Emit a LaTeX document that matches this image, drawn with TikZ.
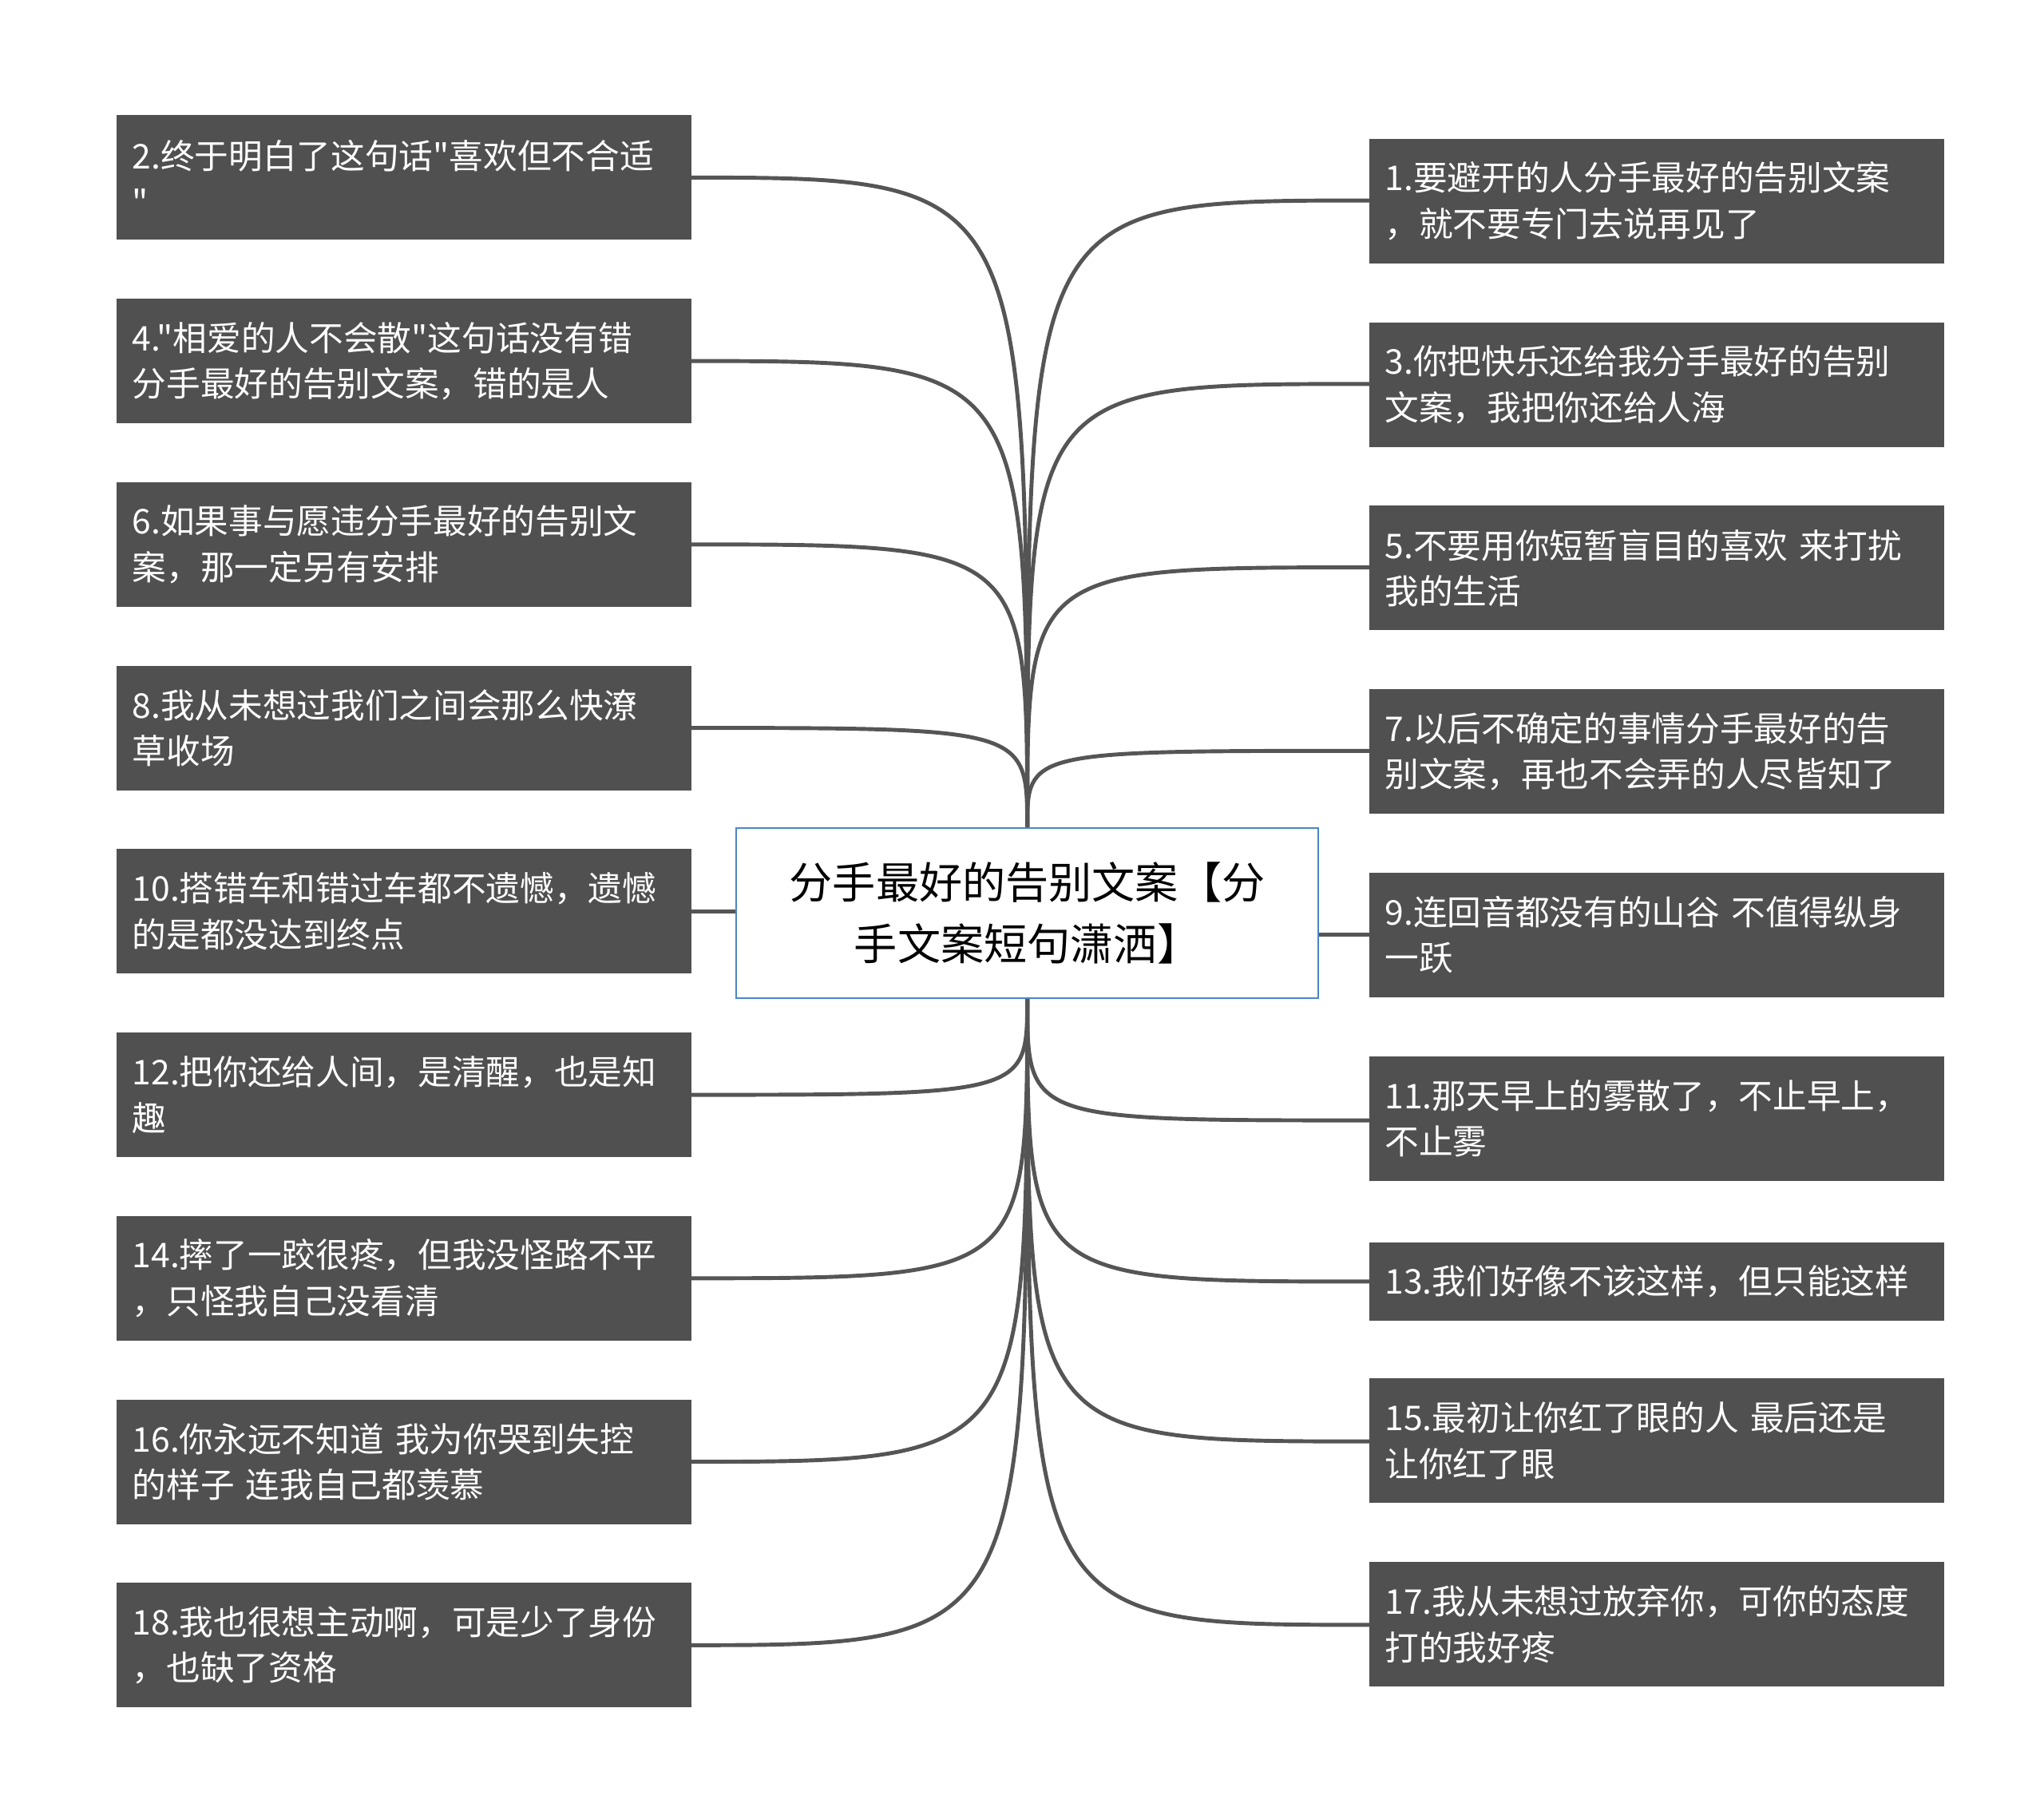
\documentclass[tikz,border=0pt]{standalone}
\usepackage{fontspec}
\newfontfamily\cjk{Noto Sans CJK SC}
\begin{document}
\begin{tikzpicture}[x=1pt,y=-1pt,
  leaf/.style={fill=boxgray,text=white,anchor=north west,minimum width=433pt,minimum height=95pt,text width=415pt,inner xsep=12pt,outer sep=0pt,align=left,font=\cjk\fontsize{26}{35}\selectfont},
  link/.style={draw=linegray,line width=3pt}]
\definecolor{boxgray}{HTML}{505050}
\definecolor{linegray}{HTML}{555555}
\definecolor{blueb}{HTML}{4A86C8}
\useasboundingbox (0,0) rectangle (1560,1388);
\coordinate (ct) at (784,632);
\coordinate (cb) at (784,762);
\foreach \i in {1,2,3,4} {
  \draw[link] (ct) .. controls (784,{135.5+140*(\i-1)}) .. (522,{135.5+140*(\i-1)});
  \draw[link] (ct) .. controls (784,{153+140*(\i-1)}) .. (1045,{153+140*(\i-1)});
}
\foreach \i in {6,7,8,9} {
  \draw[link] (cb) .. controls (784,{135.5+140*(\i-1)}) .. (522,{135.5+140*(\i-1)});
}
\foreach \y in {855,978,1100,1240} {
  \draw[link] (cb) .. controls (784,\y) .. (1045,\y);
}
\node[draw=blueb,line width=1.2pt,fill=white,minimum width=444pt,minimum height=130pt,align=center,font=\cjk\fontsize{33}{47}\selectfont] (c) at (784,697) {分手最好的告别文案【分\\手文案短句潇洒】};
\node[leaf] (l1) at (89,88) {2.终于明白了这句话"喜欢但不合适\\"};
\node[leaf] (l2) at (89,228) {4."相爱的人不会散"这句话没有错\\分手最好的告别文案，错的是人};
\node[leaf] (l3) at (89,368) {6.如果事与愿违分手最好的告别文\\案，那一定另有安排};
\node[leaf] (l4) at (89,508) {8.我从未想过我们之间会那么快潦\\草收场};
\node[leaf] (l5) at (89,648) {10.搭错车和错过车都不遗憾，遗憾\\的是都没达到终点};
\node[leaf] (l6) at (89,788) {12.把你还给人间，是清醒，也是知\\趣};
\node[leaf] (l7) at (89,928) {14.摔了一跤很疼，但我没怪路不平\\，只怪我自己没看清};
\node[leaf] (l8) at (89,1068) {16.你永远不知道 我为你哭到失控\\的样子 连我自己都羡慕};
\node[leaf] (l9) at (89,1208) {18.我也很想主动啊，可是少了身份\\，也缺了资格};
\node[leaf] (r1) at (1045,106) {1.要避开的人分手最好的告别文案\\，就不要专门去说再见了};
\node[leaf] (r2) at (1045,246) {3.你把快乐还给我分手最好的告别\\文案，我把你还给人海};
\node[leaf] (r3) at (1045,386) {5.不要用你短暂盲目的喜欢 来打扰\\我的生活};
\node[leaf] (r4) at (1045,526) {7.以后不确定的事情分手最好的告\\别文案，再也不会弄的人尽皆知了};
\node[leaf] (r5) at (1045,666) {9.连回音都没有的山谷 不值得纵身\\一跃};
\node[leaf] (r6) at (1045,806) {11.那天早上的雾散了，不止早上，\\不止雾};
\node[leaf,minimum height=60pt,minimum width=430pt] (r7) at (1045,948) {13.我们好像不该这样，但只能这样};
\node[leaf] (r8) at (1045,1052) {15.最初让你红了眼的人 最后还是\\让你红了眼};
\node[leaf] (r9) at (1045,1192) {17.我从未想过放弃你，可你的态度\\打的我好疼};
\draw[link] (c.west |- l5.east) -- (l5.east);
\draw[link] (c.east |- r5.west) -- (r5.west);
\end{tikzpicture}
\end{document}
